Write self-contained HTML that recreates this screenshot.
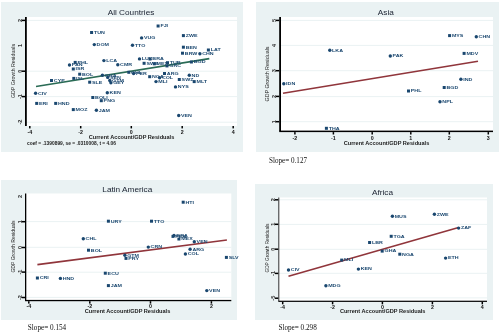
<!DOCTYPE html>
<html><head><meta charset="utf-8"><style>
html,body{margin:0;padding:0;background:#fff;width:500px;height:334px;overflow:hidden}
svg{display:block;will-change:transform}
text{font-family:"Liberation Sans",sans-serif}
text.serif{font-family:"Liberation Serif",serif}
</style></head><body>
<svg width="500" height="334" viewBox="0 0 500 334">
<rect x="1" y="2" width="242" height="150" fill="#eaf2f3"/>
<rect x="26" y="17" width="211" height="109" fill="#fff"/>
<rect x="26" y="19.9" width="211" height="1" fill="#eaf2f3"/>
<rect x="26" y="70.7" width="211" height="1" fill="#eaf2f3"/>
<rect x="26" y="96.1" width="211" height="1" fill="#eaf2f3"/>
<rect x="26" y="121.7" width="211" height="1" fill="#eaf2f3"/>
<text transform="translate(131.00 15.10) scale(1.1 1)" font-size="7.5" fill="#1a2130" text-anchor="middle" >All Countries</text>
<text x="131.5" y="138.8" font-size="4.5" font-weight="bold" fill="#1a1a1a" text-anchor="middle" textLength="85.6" lengthAdjust="spacingAndGlyphs">Current Account/GDP Residuals</text>
<text x="15.1" y="71" font-size="4.5" text-anchor="middle" fill="#222" transform="rotate(-90 15.1 71)" textLength="54" lengthAdjust="spacingAndGlyphs">GDP Growth Residuals</text>
<line x1="36" y1="86.5" x2="209.3" y2="58.6" stroke="#2a6b55" stroke-width="1.6"/>
<rect x="90.1" y="31.0" width="3" height="3" fill="#1a476f"/>
<text transform="translate(93.90 33.85) scale(1.4 1)" font-size="3.8" fill="#1a476f" text-anchor="start" font-weight="bold">TUN</text>
<circle cx="94.3" cy="44.6" r="1.7" fill="#1a476f"/>
<text transform="translate(96.60 45.95) scale(1.4 1)" font-size="3.8" fill="#1a476f" text-anchor="start" font-weight="bold">DOM</text>
<rect x="73.7" y="60.9" width="3" height="3" fill="#1a476f"/>
<text transform="translate(77.50 63.75) scale(1.4 1)" font-size="3.8" fill="#1a476f" text-anchor="start" font-weight="bold">PHL</text>
<circle cx="69.5" cy="65" r="1.7" fill="#1a476f"/>
<text transform="translate(71.80 66.35) scale(1.4 1)" font-size="3.8" fill="#1a476f" text-anchor="start" font-weight="bold">PAN</text>
<rect x="71.8" y="67.5" width="3" height="3" fill="#1a476f"/>
<text transform="translate(75.60 70.35) scale(1.4 1)" font-size="3.8" fill="#1a476f" text-anchor="start" font-weight="bold">ISR</text>
<circle cx="103.9" cy="60.6" r="1.7" fill="#1a476f"/>
<text transform="translate(106.20 61.95) scale(1.4 1)" font-size="3.8" fill="#1a476f" text-anchor="start" font-weight="bold">LCA</text>
<circle cx="117.8" cy="64.8" r="1.7" fill="#1a476f"/>
<text transform="translate(120.10 66.15) scale(1.4 1)" font-size="3.8" fill="#1a476f" text-anchor="start" font-weight="bold">CMR</text>
<rect x="156.6" y="24.5" width="3" height="3" fill="#1a476f"/>
<text transform="translate(160.40 27.35) scale(1.4 1)" font-size="3.8" fill="#1a476f" text-anchor="start" font-weight="bold">FJI</text>
<rect x="181.9" y="34.1" width="3" height="3" fill="#1a476f"/>
<text transform="translate(185.70 36.95) scale(1.4 1)" font-size="3.8" fill="#1a476f" text-anchor="start" font-weight="bold">ZWE</text>
<circle cx="141.6" cy="37.9" r="1.7" fill="#1a476f"/>
<text transform="translate(143.90 39.25) scale(1.4 1)" font-size="3.8" fill="#1a476f" text-anchor="start" font-weight="bold">VUG</text>
<circle cx="132.5" cy="45.3" r="1.7" fill="#1a476f"/>
<text transform="translate(134.80 46.65) scale(1.4 1)" font-size="3.8" fill="#1a476f" text-anchor="start" font-weight="bold">TTO</text>
<rect x="181.9" y="45.7" width="3" height="3" fill="#1a476f"/>
<text transform="translate(185.70 48.55) scale(1.4 1)" font-size="3.8" fill="#1a476f" text-anchor="start" font-weight="bold">BEN</text>
<rect x="181.0" y="51.7" width="3" height="3" fill="#1a476f"/>
<text transform="translate(184.80 54.55) scale(1.4 1)" font-size="3.8" fill="#1a476f" text-anchor="start" font-weight="bold">BRW</text>
<circle cx="199.9" cy="53.8" r="1.7" fill="#1a476f"/>
<text transform="translate(202.20 55.15) scale(1.4 1)" font-size="3.8" fill="#1a476f" text-anchor="start" font-weight="bold">CHN</text>
<rect x="206.9" y="48.5" width="3" height="3" fill="#1a476f"/>
<text transform="translate(210.70 51.35) scale(1.4 1)" font-size="3.8" fill="#1a476f" text-anchor="start" font-weight="bold">LAT</text>
<circle cx="139.5" cy="58.9" r="1.7" fill="#1a476f"/>
<text transform="translate(141.80 60.25) scale(1.4 1)" font-size="3.8" fill="#1a476f" text-anchor="start" font-weight="bold">LUX</text>
<rect x="148.5" y="57.5" width="3" height="3" fill="#1a476f"/>
<text transform="translate(152.30 60.35) scale(1.4 1)" font-size="3.8" fill="#1a476f" text-anchor="start" font-weight="bold">BRA</text>
<rect x="142.6" y="61.8" width="3" height="3" fill="#1a476f"/>
<text transform="translate(146.40 64.65) scale(1.4 1)" font-size="3.8" fill="#1a476f" text-anchor="start" font-weight="bold">SWE</text>
<rect x="152.8" y="62.3" width="3" height="3" fill="#1a476f"/>
<text transform="translate(156.60 65.15) scale(1.4 1)" font-size="3.8" fill="#1a476f" text-anchor="start" font-weight="bold">MEX</text>
<rect x="166.0" y="61.2" width="3" height="3" fill="#1a476f"/>
<text transform="translate(169.80 64.05) scale(1.4 1)" font-size="3.8" fill="#1a476f" text-anchor="start" font-weight="bold">TUR</text>
<rect x="165.5" y="64.4" width="3" height="3" fill="#1a476f"/>
<text transform="translate(169.30 67.25) scale(1.4 1)" font-size="3.8" fill="#1a476f" text-anchor="start" font-weight="bold">GRC</text>
<rect x="189.9" y="60.5" width="3" height="3" fill="#1a476f"/>
<text transform="translate(193.70 63.35) scale(1.4 1)" font-size="3.8" fill="#1a476f" text-anchor="start" font-weight="bold">BGD</text>
<rect x="78.2" y="72.7" width="3" height="3" fill="#1a476f"/>
<text transform="translate(82.00 75.55) scale(1.4 1)" font-size="3.8" fill="#1a476f" text-anchor="start" font-weight="bold">BOL</text>
<rect x="50.0" y="79.0" width="3" height="3" fill="#1a476f"/>
<text transform="translate(53.80 81.85) scale(1.4 1)" font-size="3.8" fill="#1a476f" text-anchor="start" font-weight="bold">CYP</text>
<rect x="72.3" y="76.9" width="3" height="3" fill="#1a476f"/>
<text transform="translate(76.10 79.75) scale(1.4 1)" font-size="3.8" fill="#1a476f" text-anchor="start" font-weight="bold">ISL</text>
<rect x="88.2" y="80.7" width="3" height="3" fill="#1a476f"/>
<text transform="translate(92.00 83.55) scale(1.4 1)" font-size="3.8" fill="#1a476f" text-anchor="start" font-weight="bold">SLE</text>
<circle cx="102.4" cy="75.2" r="1.7" fill="#1a476f"/>
<text transform="translate(104.70 76.55) scale(1.4 1)" font-size="3.8" fill="#1a476f" text-anchor="start" font-weight="bold">GHA</text>
<circle cx="107.7" cy="77.4" r="1.7" fill="#1a476f"/>
<text transform="translate(110.00 78.75) scale(1.4 1)" font-size="3.8" fill="#1a476f" text-anchor="start" font-weight="bold">SEN</text>
<circle cx="109.8" cy="80.5" r="1.7" fill="#1a476f"/>
<text transform="translate(112.10 81.85) scale(1.4 1)" font-size="3.8" fill="#1a476f" text-anchor="start" font-weight="bold">GTM</text>
<circle cx="110.9" cy="82.7" r="1.7" fill="#1a476f"/>
<text transform="translate(113.20 84.05) scale(1.4 1)" font-size="3.8" fill="#1a476f" text-anchor="start" font-weight="bold">GEY</text>
<circle cx="35.6" cy="93.3" r="1.7" fill="#1a476f"/>
<text transform="translate(37.90 94.65) scale(1.4 1)" font-size="3.8" fill="#1a476f" text-anchor="start" font-weight="bold">CIV</text>
<circle cx="107.3" cy="92.8" r="1.7" fill="#1a476f"/>
<text transform="translate(109.60 94.15) scale(1.4 1)" font-size="3.8" fill="#1a476f" text-anchor="start" font-weight="bold">KEN</text>
<rect x="91.3" y="96.0" width="3" height="3" fill="#1a476f"/>
<text transform="translate(95.10 98.85) scale(1.4 1)" font-size="3.8" fill="#1a476f" text-anchor="start" font-weight="bold">BOLI</text>
<rect x="99.8" y="99.2" width="3" height="3" fill="#1a476f"/>
<text transform="translate(103.60 102.05) scale(1.4 1)" font-size="3.8" fill="#1a476f" text-anchor="start" font-weight="bold">PNG</text>
<rect x="35.2" y="101.9" width="3" height="3" fill="#1a476f"/>
<text transform="translate(39.00 104.75) scale(1.4 1)" font-size="3.8" fill="#1a476f" text-anchor="start" font-weight="bold">ERI</text>
<rect x="54.2" y="101.9" width="3" height="3" fill="#1a476f"/>
<text transform="translate(58.00 104.75) scale(1.4 1)" font-size="3.8" fill="#1a476f" text-anchor="start" font-weight="bold">HND</text>
<rect x="71.8" y="108.1" width="3" height="3" fill="#1a476f"/>
<text transform="translate(75.60 110.95) scale(1.4 1)" font-size="3.8" fill="#1a476f" text-anchor="start" font-weight="bold">MOZ</text>
<circle cx="96.4" cy="110.2" r="1.7" fill="#1a476f"/>
<text transform="translate(98.70 111.55) scale(1.4 1)" font-size="3.8" fill="#1a476f" text-anchor="start" font-weight="bold">JAM</text>
<rect x="127.30000000000001" y="70.8" width="3" height="3" fill="#1a476f"/>
<text transform="translate(131.10 73.65) scale(1.4 1)" font-size="3.8" fill="#1a476f" text-anchor="start" font-weight="bold">CHL</text>
<circle cx="133.6" cy="73.5" r="1.7" fill="#1a476f"/>
<text transform="translate(135.90 74.85) scale(1.4 1)" font-size="3.8" fill="#1a476f" text-anchor="start" font-weight="bold">PER</text>
<rect x="163.0" y="72.0" width="3" height="3" fill="#1a476f"/>
<text transform="translate(166.80 74.85) scale(1.4 1)" font-size="3.8" fill="#1a476f" text-anchor="start" font-weight="bold">ARG</text>
<rect x="148.2" y="75.2" width="3" height="3" fill="#1a476f"/>
<text transform="translate(152.00 78.05) scale(1.4 1)" font-size="3.8" fill="#1a476f" text-anchor="start" font-weight="bold">NGA</text>
<circle cx="159.6" cy="77.8" r="1.7" fill="#1a476f"/>
<text transform="translate(161.90 79.15) scale(1.4 1)" font-size="3.8" fill="#1a476f" text-anchor="start" font-weight="bold">COL</text>
<circle cx="156" cy="81.6" r="1.7" fill="#1a476f"/>
<text transform="translate(158.30 82.95) scale(1.4 1)" font-size="3.8" fill="#1a476f" text-anchor="start" font-weight="bold">MLI</text>
<rect x="177.8" y="78.0" width="3" height="3" fill="#1a476f"/>
<text transform="translate(181.60 80.85) scale(1.4 1)" font-size="3.8" fill="#1a476f" text-anchor="start" font-weight="bold">SWZ</text>
<circle cx="189.3" cy="75.2" r="1.7" fill="#1a476f"/>
<text transform="translate(191.60 76.55) scale(1.4 1)" font-size="3.8" fill="#1a476f" text-anchor="start" font-weight="bold">ND</text>
<rect x="192.7" y="80.1" width="3" height="3" fill="#1a476f"/>
<text transform="translate(196.50 82.95) scale(1.4 1)" font-size="3.8" fill="#1a476f" text-anchor="start" font-weight="bold">MLT</text>
<circle cx="175.5" cy="86.9" r="1.7" fill="#1a476f"/>
<text transform="translate(177.80 88.25) scale(1.4 1)" font-size="3.8" fill="#1a476f" text-anchor="start" font-weight="bold">NYS</text>
<circle cx="178.7" cy="115.5" r="1.7" fill="#1a476f"/>
<text transform="translate(181.00 116.85) scale(1.4 1)" font-size="3.8" fill="#1a476f" text-anchor="start" font-weight="bold">VEN</text>
<rect x="25" y="17" width="1.8" height="109" fill="#000"/>
<rect x="21.7" y="19.65" width="3.3" height="1.5" fill="#000"/>
<text x="22.0" y="20.4" font-size="5.6" font-weight="bold" text-anchor="middle" fill="#333" transform="rotate(-90 22.0 20.4)">2</text>
<text x="22.0" y="45.5" font-size="5.6" font-weight="bold" text-anchor="middle" fill="#333" transform="rotate(-90 22.0 45.5)">1</text>
<rect x="21.7" y="70.45" width="3.3" height="1.5" fill="#000"/>
<text x="22.0" y="71.2" font-size="5.6" font-weight="bold" text-anchor="middle" fill="#333" transform="rotate(-90 22.0 71.2)">0</text>
<rect x="21.7" y="95.85" width="3.3" height="1.5" fill="#000"/>
<text x="22.0" y="96.6" font-size="5.6" font-weight="bold" text-anchor="middle" fill="#333" transform="rotate(-90 22.0 96.6)">-1</text>
<text x="22.0" y="122.0" font-size="5.6" font-weight="bold" text-anchor="middle" fill="#333" transform="rotate(-90 22.0 122.0)">-2</text>
<rect x="29.05" y="126" width="1.5" height="2.4" fill="#000"/>
<text transform="translate(29.80 133.80) scale(1 1)" font-size="5.3" fill="#111" text-anchor="middle" font-weight="bold">-4</text>
<rect x="79.95" y="126" width="1.5" height="2.4" fill="#000"/>
<text transform="translate(80.70 133.80) scale(1 1)" font-size="5.3" fill="#111" text-anchor="middle" font-weight="bold">-2</text>
<rect x="130.55" y="126" width="1.5" height="2.4" fill="#000"/>
<text transform="translate(131.30 133.80) scale(1 1)" font-size="5.3" fill="#111" text-anchor="middle" font-weight="bold">0</text>
<rect x="181.45" y="126" width="1.5" height="2.4" fill="#000"/>
<text transform="translate(182.20 133.80) scale(1 1)" font-size="5.3" fill="#111" text-anchor="middle" font-weight="bold">2</text>
<rect x="232.45" y="126" width="1.5" height="2.4" fill="#000"/>
<text transform="translate(233.20 133.80) scale(1 1)" font-size="5.3" fill="#111" text-anchor="middle" font-weight="bold">4</text>
<text x="27" y="145.2" font-size="4.5" font-weight="bold" fill="#222" textLength="89" lengthAdjust="spacingAndGlyphs">coef = .1390899, se = .0310008, t = 4.06</text>
<rect x="256" y="2" width="243" height="150" fill="#eaf2f3"/>
<rect x="281" y="17" width="212" height="114" fill="#fff"/>
<rect x="281" y="19.9" width="212" height="1" fill="#eaf2f3"/>
<rect x="281" y="44.9" width="212" height="1" fill="#eaf2f3"/>
<rect x="281" y="70.2" width="212" height="1" fill="#eaf2f3"/>
<rect x="281" y="96.1" width="212" height="1" fill="#eaf2f3"/>
<rect x="281" y="121.2" width="212" height="1" fill="#eaf2f3"/>
<text transform="translate(385.80 14.90) scale(1.1 1)" font-size="7.5" fill="#1a2130" text-anchor="middle" >Asia</text>
<text x="386.5" y="145" font-size="4.5" font-weight="bold" fill="#1a1a1a" text-anchor="middle" textLength="85.6" lengthAdjust="spacingAndGlyphs">Current Account/GDP Residuals</text>
<text x="269.2" y="74" font-size="4.5" text-anchor="middle" fill="#222" transform="rotate(-90 269.2 74)" textLength="55" lengthAdjust="spacingAndGlyphs">GDP Growth Residuals</text>
<line x1="283" y1="93.3" x2="478" y2="61.3" stroke="#90353b" stroke-width="1.6"/>
<circle cx="329.8" cy="50.3" r="1.7" fill="#1a476f"/>
<text transform="translate(332.10 51.65) scale(1.4 1)" font-size="3.8" fill="#1a476f" text-anchor="start" font-weight="bold">LKA</text>
<rect x="448.1" y="34.1" width="3" height="3" fill="#1a476f"/>
<text transform="translate(451.90 36.95) scale(1.4 1)" font-size="3.8" fill="#1a476f" text-anchor="start" font-weight="bold">MYS</text>
<circle cx="476.3" cy="36.7" r="1.7" fill="#1a476f"/>
<text transform="translate(478.60 38.05) scale(1.4 1)" font-size="3.8" fill="#1a476f" text-anchor="start" font-weight="bold">CHN</text>
<circle cx="390.3" cy="56" r="1.7" fill="#1a476f"/>
<text transform="translate(392.60 57.35) scale(1.4 1)" font-size="3.8" fill="#1a476f" text-anchor="start" font-weight="bold">PAK</text>
<rect x="462.6" y="51.9" width="3" height="3" fill="#1a476f"/>
<text transform="translate(466.40 54.75) scale(1.4 1)" font-size="3.8" fill="#1a476f" text-anchor="start" font-weight="bold">MDV</text>
<circle cx="283.8" cy="83.8" r="1.7" fill="#1a476f"/>
<text transform="translate(286.10 85.15) scale(1.4 1)" font-size="3.8" fill="#1a476f" text-anchor="start" font-weight="bold">IDN</text>
<rect x="324.9" y="126.80000000000001" width="3" height="3" fill="#1a476f"/>
<text transform="translate(328.70 129.65) scale(1.4 1)" font-size="3.8" fill="#1a476f" text-anchor="start" font-weight="bold">THA</text>
<circle cx="460.9" cy="79.2" r="1.7" fill="#1a476f"/>
<text transform="translate(463.20 80.55) scale(1.4 1)" font-size="3.8" fill="#1a476f" text-anchor="start" font-weight="bold">IND</text>
<rect x="442.7" y="86.0" width="3" height="3" fill="#1a476f"/>
<text transform="translate(446.50 88.85) scale(1.4 1)" font-size="3.8" fill="#1a476f" text-anchor="start" font-weight="bold">BGD</text>
<rect x="407.0" y="89.5" width="3" height="3" fill="#1a476f"/>
<text transform="translate(410.80 92.35) scale(1.4 1)" font-size="3.8" fill="#1a476f" text-anchor="start" font-weight="bold">PHL</text>
<circle cx="440" cy="101.7" r="1.7" fill="#1a476f"/>
<text transform="translate(442.30 103.05) scale(1.4 1)" font-size="3.8" fill="#1a476f" text-anchor="start" font-weight="bold">NPL</text>
<rect x="279.2" y="17" width="1.8" height="114" fill="#000"/>
<rect x="279.2" y="130.6" width="213.8" height="1.5" fill="#000"/>
<rect x="275.9" y="19.65" width="3.3" height="1.5" fill="#000"/>
<text x="276.2" y="20.4" font-size="5.6" font-weight="bold" text-anchor="middle" fill="#333" transform="rotate(-90 276.2 20.4)">5</text>
<text x="276.2" y="45.4" font-size="5.6" font-weight="bold" text-anchor="middle" fill="#333" transform="rotate(-90 276.2 45.4)">4</text>
<rect x="275.9" y="69.95" width="3.3" height="1.5" fill="#000"/>
<text x="276.2" y="70.7" font-size="5.6" font-weight="bold" text-anchor="middle" fill="#333" transform="rotate(-90 276.2 70.7)">3</text>
<rect x="275.9" y="95.65" width="3.3" height="1.5" fill="#000"/>
<text x="276.2" y="96.4" font-size="5.6" font-weight="bold" text-anchor="middle" fill="#333" transform="rotate(-90 276.2 96.4)">2</text>
<rect x="275.9" y="120.95" width="3.3" height="1.5" fill="#000"/>
<text x="276.2" y="121.7" font-size="5.6" font-weight="bold" text-anchor="middle" fill="#333" transform="rotate(-90 276.2 121.7)">1</text>
<rect x="294.15" y="132.1" width="1.5" height="2.4" fill="#000"/>
<text transform="translate(294.90 140.20) scale(1 1)" font-size="5.3" fill="#111" text-anchor="middle" font-weight="bold">-2</text>
<rect x="332.65" y="132.1" width="1.5" height="2.4" fill="#000"/>
<text transform="translate(333.40 140.20) scale(1 1)" font-size="5.3" fill="#111" text-anchor="middle" font-weight="bold">-1</text>
<rect x="371.45" y="132.1" width="1.5" height="2.4" fill="#000"/>
<text transform="translate(372.20 140.20) scale(1 1)" font-size="5.3" fill="#111" text-anchor="middle" font-weight="bold">0</text>
<rect x="410.05" y="132.1" width="1.5" height="2.4" fill="#000"/>
<text transform="translate(410.80 140.20) scale(1 1)" font-size="5.3" fill="#111" text-anchor="middle" font-weight="bold">1</text>
<rect x="448.55" y="132.1" width="1.5" height="2.4" fill="#000"/>
<text transform="translate(449.30 140.20) scale(1 1)" font-size="5.3" fill="#111" text-anchor="middle" font-weight="bold">2</text>
<rect x="487.55" y="132.1" width="1.5" height="2.4" fill="#000"/>
<text transform="translate(488.30 140.20) scale(1 1)" font-size="5.3" fill="#111" text-anchor="middle" font-weight="bold">3</text>
<text x="269" y="162.6" font-size="9" class="serif" fill="#111" textLength="38" lengthAdjust="spacingAndGlyphs">Slope= 0.127</text>
<rect x="1" y="180" width="236" height="140" fill="#eaf2f3"/>
<rect x="26" y="193.5" width="205.3" height="106.5" fill="#fff"/>
<rect x="26" y="221.1" width="205.3" height="1" fill="#eaf2f3"/>
<rect x="26" y="246.8" width="205.3" height="1" fill="#eaf2f3"/>
<rect x="26" y="271.7" width="205.3" height="1" fill="#eaf2f3"/>
<rect x="26" y="296.9" width="205.3" height="1" fill="#eaf2f3"/>
<text transform="translate(127.30 191.50) scale(1.1 1)" font-size="7.5" fill="#1a2130" text-anchor="middle" >Latin America</text>
<text x="127.5" y="312.8" font-size="4.5" font-weight="bold" fill="#1a1a1a" text-anchor="middle" textLength="85.6" lengthAdjust="spacingAndGlyphs">Current Account/GDP Residuals</text>
<text x="15.0" y="246.6" font-size="4.5" text-anchor="middle" fill="#222" transform="rotate(-90 15.0 246.6)" textLength="52" lengthAdjust="spacingAndGlyphs">GDP Growth Residuals</text>
<line x1="37.4" y1="264.6" x2="226.9" y2="240" stroke="#90353b" stroke-width="1.6"/>
<rect x="106.9" y="219.7" width="3" height="3" fill="#1a476f"/>
<text transform="translate(110.70 222.55) scale(1.4 1)" font-size="3.8" fill="#1a476f" text-anchor="start" font-weight="bold">URY</text>
<circle cx="83.3" cy="238.7" r="1.7" fill="#1a476f"/>
<text transform="translate(85.60 240.05) scale(1.4 1)" font-size="3.8" fill="#1a476f" text-anchor="start" font-weight="bold">CHL</text>
<rect x="181.7" y="200.7" width="3" height="3" fill="#1a476f"/>
<text transform="translate(185.50 203.55) scale(1.4 1)" font-size="3.8" fill="#1a476f" text-anchor="start" font-weight="bold">HTI</text>
<rect x="150.0" y="219.7" width="3" height="3" fill="#1a476f"/>
<text transform="translate(153.80 222.55) scale(1.4 1)" font-size="3.8" fill="#1a476f" text-anchor="start" font-weight="bold">TTO</text>
<circle cx="174" cy="235.4" r="1.7" fill="#1a476f"/>
<text transform="translate(176.30 236.75) scale(1.4 1)" font-size="3.8" fill="#1a476f" text-anchor="start" font-weight="bold">BRA</text>
<rect x="171.5" y="234.9" width="3" height="3" fill="#1a476f"/>
<text transform="translate(175.30 237.75) scale(1.4 1)" font-size="3.8" fill="#1a476f" text-anchor="start" font-weight="bold">PER</text>
<rect x="177.4" y="237.5" width="3" height="3" fill="#1a476f"/>
<text transform="translate(181.20 240.35) scale(1.4 1)" font-size="3.8" fill="#1a476f" text-anchor="start" font-weight="bold">MEX</text>
<circle cx="194.3" cy="241.8" r="1.7" fill="#1a476f"/>
<text transform="translate(196.60 243.15) scale(1.4 1)" font-size="3.8" fill="#1a476f" text-anchor="start" font-weight="bold">VEN</text>
<rect x="87.0" y="248.7" width="3" height="3" fill="#1a476f"/>
<text transform="translate(90.80 251.55) scale(1.4 1)" font-size="3.8" fill="#1a476f" text-anchor="start" font-weight="bold">BOL</text>
<circle cx="124.9" cy="255.3" r="1.7" fill="#1a476f"/>
<text transform="translate(127.20 256.65) scale(1.4 1)" font-size="3.8" fill="#1a476f" text-anchor="start" font-weight="bold">GTM</text>
<rect x="124.5" y="256.9" width="3" height="3" fill="#1a476f"/>
<text transform="translate(128.30 259.75) scale(1.4 1)" font-size="3.8" fill="#1a476f" text-anchor="start" font-weight="bold">PRY</text>
<rect x="35.9" y="276.5" width="3" height="3" fill="#1a476f"/>
<text transform="translate(39.70 279.35) scale(1.4 1)" font-size="3.8" fill="#1a476f" text-anchor="start" font-weight="bold">CRI</text>
<circle cx="60.4" cy="278.4" r="1.7" fill="#1a476f"/>
<text transform="translate(62.70 279.75) scale(1.4 1)" font-size="3.8" fill="#1a476f" text-anchor="start" font-weight="bold">HND</text>
<rect x="103.8" y="271.7" width="3" height="3" fill="#1a476f"/>
<text transform="translate(107.60 274.55) scale(1.4 1)" font-size="3.8" fill="#1a476f" text-anchor="start" font-weight="bold">ECU</text>
<rect x="106.9" y="284.1" width="3" height="3" fill="#1a476f"/>
<text transform="translate(110.70 286.95) scale(1.4 1)" font-size="3.8" fill="#1a476f" text-anchor="start" font-weight="bold">JAM</text>
<circle cx="148.3" cy="247.1" r="1.7" fill="#1a476f"/>
<text transform="translate(150.60 248.45) scale(1.4 1)" font-size="3.8" fill="#1a476f" text-anchor="start" font-weight="bold">CRN</text>
<circle cx="190.1" cy="249.3" r="1.7" fill="#1a476f"/>
<text transform="translate(192.40 250.65) scale(1.4 1)" font-size="3.8" fill="#1a476f" text-anchor="start" font-weight="bold">ARG</text>
<circle cx="185.4" cy="254" r="1.7" fill="#1a476f"/>
<text transform="translate(187.70 255.35) scale(1.4 1)" font-size="3.8" fill="#1a476f" text-anchor="start" font-weight="bold">COL</text>
<rect x="224.9" y="255.89999999999998" width="3" height="3" fill="#1a476f"/>
<text transform="translate(228.70 258.75) scale(1.4 1)" font-size="3.8" fill="#1a476f" text-anchor="start" font-weight="bold">SLV</text>
<circle cx="206.8" cy="290.6" r="1.7" fill="#1a476f"/>
<text transform="translate(209.10 291.95) scale(1.4 1)" font-size="3.8" fill="#1a476f" text-anchor="start" font-weight="bold">VEN</text>
<rect x="25" y="193.5" width="1.3" height="106.5" fill="#000"/>
<rect x="25" y="299.9" width="206.3" height="1.3" fill="#000"/>
<text x="22.0" y="196.4" font-size="5.6" font-weight="bold" text-anchor="middle" fill="#333" transform="rotate(-90 22.0 196.4)">2</text>
<rect x="21.7" y="220.95" width="3.3" height="1.5" fill="#000"/>
<text x="22.0" y="221.7" font-size="5.6" font-weight="bold" text-anchor="middle" fill="#333" transform="rotate(-90 22.0 221.7)">1</text>
<rect x="21.7" y="246.75" width="3.3" height="1.5" fill="#000"/>
<text x="22.0" y="247.5" font-size="5.6" font-weight="bold" text-anchor="middle" fill="#333" transform="rotate(-90 22.0 247.5)">0</text>
<rect x="21.7" y="271.35" width="3.3" height="1.5" fill="#000"/>
<text x="22.0" y="272.1" font-size="5.6" font-weight="bold" text-anchor="middle" fill="#333" transform="rotate(-90 22.0 272.1)">-1</text>
<rect x="21.7" y="296.75" width="3.3" height="1.5" fill="#000"/>
<text x="22.0" y="297.5" font-size="5.6" font-weight="bold" text-anchor="middle" fill="#333" transform="rotate(-90 22.0 297.5)">-2</text>
<rect x="28.05" y="301.2" width="1.5" height="2.4" fill="#000"/>
<text transform="translate(28.80 308.20) scale(1 1)" font-size="5.3" fill="#111" text-anchor="middle" font-weight="bold">-4</text>
<rect x="89.05" y="301.2" width="1.5" height="2.4" fill="#000"/>
<text transform="translate(89.80 308.20) scale(1 1)" font-size="5.3" fill="#111" text-anchor="middle" font-weight="bold">-2</text>
<rect x="149.75" y="301.2" width="1.5" height="2.4" fill="#000"/>
<text transform="translate(150.50 308.20) scale(1 1)" font-size="5.3" fill="#111" text-anchor="middle" font-weight="bold">0</text>
<rect x="210.65" y="301.2" width="1.5" height="2.4" fill="#000"/>
<text transform="translate(211.40 308.20) scale(1 1)" font-size="5.3" fill="#111" text-anchor="middle" font-weight="bold">2</text>
<text x="27.8" y="330" font-size="9" class="serif" fill="#111" textLength="38.4" lengthAdjust="spacingAndGlyphs">Slope= 0.154</text>
<rect x="255" y="184" width="238" height="136" fill="#eaf2f3"/>
<rect x="279" y="197.5" width="208" height="103.5" fill="#fff"/>
<rect x="279" y="199.3" width="208" height="1" fill="#eaf2f3"/>
<rect x="279" y="223.9" width="208" height="1" fill="#eaf2f3"/>
<rect x="279" y="248.8" width="208" height="1" fill="#eaf2f3"/>
<rect x="279" y="272.8" width="208" height="1" fill="#eaf2f3"/>
<rect x="279" y="297.4" width="208" height="1" fill="#eaf2f3"/>
<text transform="translate(382.50 195.20) scale(1.1 1)" font-size="7.5" fill="#1a2130" text-anchor="middle" >Africa</text>
<text x="382.7" y="312.8" font-size="4.5" font-weight="bold" fill="#1a1a1a" text-anchor="middle" textLength="85.6" lengthAdjust="spacingAndGlyphs">Current Account/GDP Residuals</text>
<text x="269.0" y="248" font-size="4.5" text-anchor="middle" fill="#222" transform="rotate(-90 269.0 248)" textLength="49" lengthAdjust="spacingAndGlyphs">GDP Growth Residuals</text>
<line x1="288.5" y1="276.3" x2="458.6" y2="227.4" stroke="#90353b" stroke-width="1.6"/>
<circle cx="392.4" cy="216.3" r="1.7" fill="#1a476f"/>
<text transform="translate(394.70 217.65) scale(1.4 1)" font-size="3.8" fill="#1a476f" text-anchor="start" font-weight="bold">MUS</text>
<circle cx="434.4" cy="214.2" r="1.7" fill="#1a476f"/>
<text transform="translate(436.70 215.55) scale(1.4 1)" font-size="3.8" fill="#1a476f" text-anchor="start" font-weight="bold">ZWE</text>
<circle cx="458.6" cy="228.1" r="1.7" fill="#1a476f"/>
<text transform="translate(460.90 229.45) scale(1.4 1)" font-size="3.8" fill="#1a476f" text-anchor="start" font-weight="bold">ZAF</text>
<rect x="389.7" y="234.8" width="3" height="3" fill="#1a476f"/>
<text transform="translate(393.50 237.65) scale(1.4 1)" font-size="3.8" fill="#1a476f" text-anchor="start" font-weight="bold">TGA</text>
<rect x="368.1" y="241.0" width="3" height="3" fill="#1a476f"/>
<text transform="translate(371.90 243.85) scale(1.4 1)" font-size="3.8" fill="#1a476f" text-anchor="start" font-weight="bold">LBR</text>
<rect x="380.7" y="249.6" width="3" height="3" fill="#1a476f"/>
<text transform="translate(384.50 252.45) scale(1.4 1)" font-size="3.8" fill="#1a476f" text-anchor="start" font-weight="bold">GHA</text>
<rect x="398.3" y="252.7" width="3" height="3" fill="#1a476f"/>
<text transform="translate(402.10 255.55) scale(1.4 1)" font-size="3.8" fill="#1a476f" text-anchor="start" font-weight="bold">NGA</text>
<rect x="340.2" y="258.6" width="3" height="3" fill="#1a476f"/>
<text transform="translate(344.00 261.45) scale(1.4 1)" font-size="3.8" fill="#1a476f" text-anchor="start" font-weight="bold">MLI</text>
<circle cx="358.4" cy="269.1" r="1.7" fill="#1a476f"/>
<text transform="translate(360.70 270.45) scale(1.4 1)" font-size="3.8" fill="#1a476f" text-anchor="start" font-weight="bold">KEN</text>
<circle cx="288.5" cy="270" r="1.7" fill="#1a476f"/>
<text transform="translate(290.80 271.35) scale(1.4 1)" font-size="3.8" fill="#1a476f" text-anchor="start" font-weight="bold">CIV</text>
<circle cx="325.9" cy="285.8" r="1.7" fill="#1a476f"/>
<text transform="translate(328.20 287.15) scale(1.4 1)" font-size="3.8" fill="#1a476f" text-anchor="start" font-weight="bold">MDG</text>
<circle cx="445.6" cy="258.1" r="1.7" fill="#1a476f"/>
<text transform="translate(447.90 259.45) scale(1.4 1)" font-size="3.8" fill="#1a476f" text-anchor="start" font-weight="bold">ETH</text>
<rect x="278.3" y="197.5" width="1.0" height="103.5" fill="#333"/>
<rect x="278.3" y="300.7" width="208.7" height="1.2" fill="#000"/>
<rect x="275.0" y="199.05" width="3.3" height="1.5" fill="#000"/>
<text x="275.3" y="199.8" font-size="5.6" font-weight="bold" text-anchor="middle" fill="#333" transform="rotate(-90 275.3 199.8)">2</text>
<rect x="275.0" y="223.55" width="3.3" height="1.5" fill="#000"/>
<text x="275.3" y="224.3" font-size="5.6" font-weight="bold" text-anchor="middle" fill="#333" transform="rotate(-90 275.3 224.3)">1</text>
<rect x="275.0" y="248.45" width="3.3" height="1.5" fill="#000"/>
<text x="275.3" y="249.2" font-size="5.6" font-weight="bold" text-anchor="middle" fill="#333" transform="rotate(-90 275.3 249.2)">0</text>
<rect x="275.0" y="272.65" width="3.3" height="1.5" fill="#000"/>
<text x="275.3" y="273.4" font-size="5.6" font-weight="bold" text-anchor="middle" fill="#333" transform="rotate(-90 275.3 273.4)">-1</text>
<rect x="275.0" y="297.45" width="3.3" height="1.5" fill="#000"/>
<text x="275.3" y="298.2" font-size="5.6" font-weight="bold" text-anchor="middle" fill="#333" transform="rotate(-90 275.3 298.2)">-5</text>
<rect x="281.95" y="301.9" width="1.5" height="2.4" fill="#000"/>
<text transform="translate(282.70 308.80) scale(1 1)" font-size="5.3" fill="#111" text-anchor="middle" font-weight="bold">-4</text>
<rect x="331.85" y="301.9" width="1.5" height="2.4" fill="#000"/>
<text transform="translate(332.60 308.80) scale(1 1)" font-size="5.3" fill="#111" text-anchor="middle" font-weight="bold">-2</text>
<rect x="381.65" y="301.9" width="1.5" height="2.4" fill="#000"/>
<text transform="translate(382.40 308.80) scale(1 1)" font-size="5.3" fill="#111" text-anchor="middle" font-weight="bold">0</text>
<rect x="431.65" y="301.9" width="1.5" height="2.4" fill="#000"/>
<text transform="translate(432.40 308.80) scale(1 1)" font-size="5.3" fill="#111" text-anchor="middle" font-weight="bold">2</text>
<rect x="481.55" y="301.9" width="1.5" height="2.4" fill="#000"/>
<text transform="translate(482.30 308.80) scale(1 1)" font-size="5.3" fill="#111" text-anchor="middle" font-weight="bold">4</text>
<text x="278.4" y="330" font-size="9" class="serif" fill="#111" textLength="38.4" lengthAdjust="spacingAndGlyphs">Slope= 0.298</text>
</svg>
</body></html>
